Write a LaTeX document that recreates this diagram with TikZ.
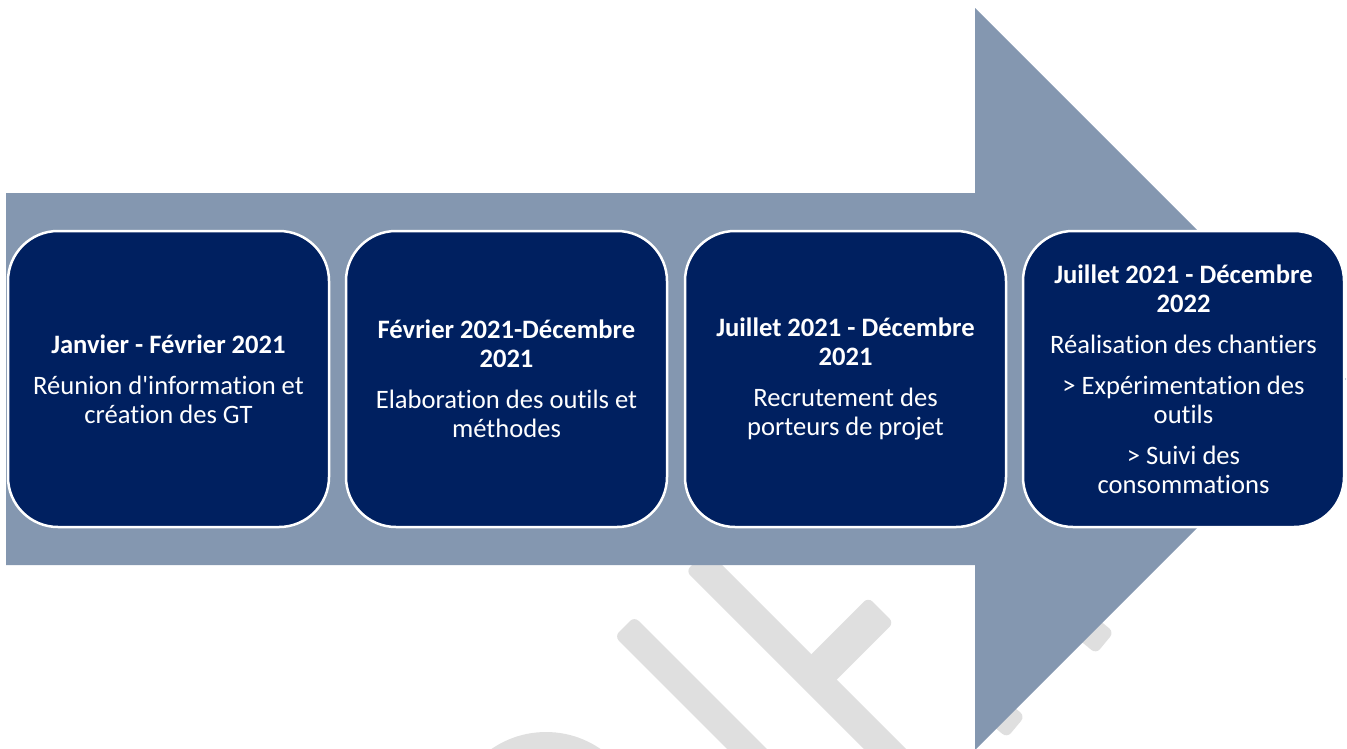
\documentclass[tikz,border=0pt]{standalone}
\usepackage{fontspec}
\setmainfont{Carlito}[Ligatures={NoCommon}]
\usetikzlibrary{calc}
\definecolor{arrowcol}{HTML}{8497B0}
\definecolor{boxcol}{HTML}{002060}
\definecolor{wmcol}{HTML}{DFDFDF}
\newcommand{\wmbar}[3]{%
  \fill[wmcol, rounded corners=6pt]
    ($(#1)!#3!90:(#2)$) -- ($(#1)!#3!-90:(#2)$) --
    ($(#2)!#3!90:(#1)$) -- ($(#2)!#3!-90:(#1)$) -- cycle;}
\tikzset{
  stepbox/.style={draw=white, line width=2.5pt, fill=boxcol, rounded corners=50pt,
    minimum width=321pt, minimum height=296pt, text=white, align=center,
    font=\fontsize{26.6}{29}\selectfont, inner sep=0pt},
}
\begin{document}
\begin{tikzpicture}[x=1pt,y=-1pt]
\useasboundingbox (0,0) rectangle (1347,748);
\clip (0,0) rectangle (1347,748);
% watermark pieces
\coordinate (b1a) at (624.5,626.5); \coordinate (b1b) at (765,767);
\coordinate (sta) at (696.5,560.5); \coordinate (stb) at (905,769);
\coordinate (cra) at (813.5,677.5); \coordinate (crb) at (881,610);
\coordinate (saa) at (1059,605);    \coordinate (sab) at (1105,643);
\coordinate (sba) at (989,704.5);   \coordinate (sbb) at (1016,727);
\wmbar{b1a}{b1b}{14pt}
\wmbar{sta}{stb}{15pt}
\wmbar{cra}{crb}{18pt}
\wmbar{saa}{sab}{14pt}
\wmbar{sba}{sbb}{14pt}
\coordinate (arcc) at (546,828);
\draw[wmcol, line width=30pt] (arcc) circle[radius=81];
% big arrow
\fill[arrowcol] (6,193) -- (975,193) -- (975,8) -- (1346,379) -- (975,750)
  -- (975,565) -- (6,565) -- cycle;
% boxes
\node[stepbox] (s1) at (168.5,379) {\textbf{Janvier - Février 2021}\\[12pt]Réunion d\textquotesingle information et\\création des GT};
\node[stepbox] (s2) at (506.5,379) {\textbf{Février 2021-Décembre}\\\textbf{2021}\\[12pt]Elaboration des outils et\\méthodes};
\node[stepbox] (s3) at (845.5,379) {\textbf{Juillet 2021 - Décembre}\\\textbf{2021}\\[12pt]Recrutement des\\porteurs de projet};
\node[stepbox] (s4) at (1183.5,379) {\textbf{Juillet 2021 - Décembre}\\\textbf{2022}\\[12pt]Réalisation des chantiers\\[12pt]> Expérimentation des\\outils\\[12pt]> Suivi des\\consommations};
\end{tikzpicture}
\end{document}
